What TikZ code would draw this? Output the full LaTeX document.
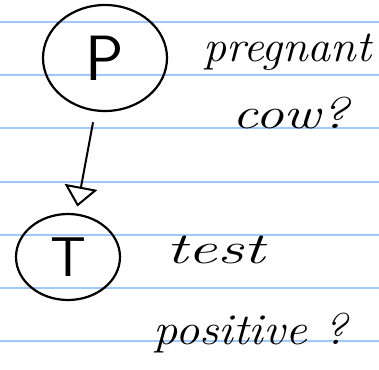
\documentclass[tikz,border=0pt]{standalone}
\usetikzlibrary{shapes.geometric,arrows.meta}
\begin{document}
\begin{tikzpicture}[x=1pt,y=-1pt,
  ruling/.style={draw=rulecolor,line width=1.2pt},
  varnode/.style={draw,ellipse,line width=2.2pt,inner sep=0pt},
  note/.style={font=\fontsize{44}{44}\selectfont\itshape,anchor=west,inner sep=0pt},
  link/.style={line width=2pt,arrows={-Triangle[open,length=20pt,width=33pt]}}]
\definecolor{rulecolor}{RGB}{160,200,250}
% page
\path[fill=white] (0,0) rectangle (379,369);
\useasboundingbox (0,0) rectangle (379,369);
% ruled lines
\foreach \y in {22,75,128,182,235,288,341}
  \draw[ruling] (0,\y) -- (379,\y);
% variables
\node[varnode,minimum width=124pt,minimum height=106pt,
      font=\fontsize{64}{64}\selectfont\sffamily] (P) at (105,58) {P};
\node[varnode,minimum width=104pt,minimum height=86pt,
      font=\fontsize{56}{56}\selectfont\sffamily] (T) at (68,257) {T};
% dependency
\draw[link,shorten <=11pt,shorten >=7pt] (P) -- (T);
% annotations
\node[note] (n1) at (203,52) {\scalebox{1.05}[1]{pregnant}};
\node[note] (n2) at (232,113) {\scalebox{1.3}[1]{cow?}};
\node[note] (n3) at (166,250) {\scalebox{1.5}[1]{test}};
\node[note] (n4) at (153,333) {\scalebox{1.1}[1]{positive ?}};
\end{tikzpicture}
\end{document}
